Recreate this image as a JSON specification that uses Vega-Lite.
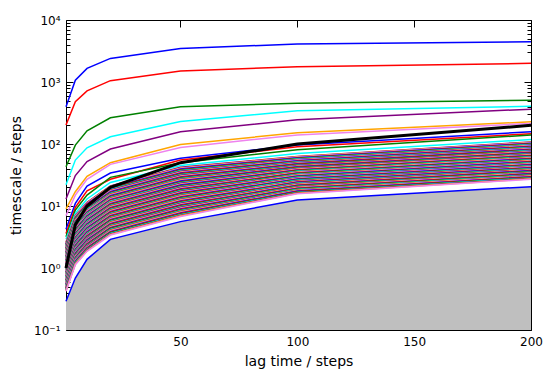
{
"$schema": "https://vega.github.io/schema/vega-lite/v6.json",
"width": 465, "height": 310,
"autosize": {"type": "none"},
"padding": {"left": 66, "top": 20, "right": 22, "bottom": 50},
"background": "white",
"config": {
  "view": {"stroke": null},
  "axis": {"domainColor": "black", "domainWidth": 1, "tickColor": "black", "tickWidth": 1, "grid": false, "labelFont": "DejaVu Sans", "titleFont": "DejaVu Sans", "labelFontSize": 12, "titleFontSize": 14, "titleFontWeight": "normal", "labelColor": "black", "titleColor": "black", "zindex": 1, "labelFlush": false}
},
"datasets": {
"lagline": [{"lag":1,"t":1},{"lag":5,"t":5},{"lag":10,"t":10},{"lag":20,"t":20},{"lag":50,"t":50},{"lag":100,"t":100},{"lag":200,"t":200}],
"ts": [
{"s":0,"lag":1,"t":400},{"s":0,"lag":5,"t":1070},{"s":0,"lag":10,"t":1660},{"s":0,"lag":20,"t":2400},{"s":0,"lag":50,"t":3480},{"s":0,"lag":100,"t":4100},{"s":0,"lag":200,"t":4450},
{"s":1,"lag":1,"t":203},{"s":1,"lag":5,"t":480},{"s":1,"lag":10,"t":720},{"s":1,"lag":20,"t":1050},{"s":1,"lag":50,"t":1500},{"s":1,"lag":100,"t":1770},{"s":1,"lag":200,"t":2000},
{"s":2,"lag":1,"t":43},{"s":2,"lag":5,"t":96},{"s":2,"lag":10,"t":163},{"s":2,"lag":20,"t":265},{"s":2,"lag":50,"t":400},{"s":2,"lag":100,"t":455},{"s":2,"lag":200,"t":510},
{"s":3,"lag":1,"t":22},{"s":3,"lag":5,"t":55},{"s":3,"lag":10,"t":87},{"s":3,"lag":20,"t":131},{"s":3,"lag":50,"t":230},{"s":3,"lag":100,"t":345},{"s":3,"lag":200,"t":405},
{"s":4,"lag":1,"t":13},{"s":4,"lag":5,"t":31},{"s":4,"lag":10,"t":52},{"s":4,"lag":20,"t":83},{"s":4,"lag":50,"t":158},{"s":4,"lag":100,"t":245},{"s":4,"lag":200,"t":365},
{"s":5,"lag":1,"t":9},{"s":5,"lag":5,"t":17},{"s":5,"lag":10,"t":30},{"s":5,"lag":20,"t":50},{"s":5,"lag":50,"t":98},{"s":5,"lag":100,"t":152},{"s":5,"lag":200,"t":228},
{"s":6,"lag":1,"t":7},{"s":6,"lag":5,"t":15},{"s":6,"lag":10,"t":27},{"s":6,"lag":20,"t":47},{"s":6,"lag":50,"t":88},{"s":6,"lag":100,"t":140},{"s":6,"lag":200,"t":215},
{"s":7,"lag":1,"t":4.2},{"s":7,"lag":5,"t":11},{"s":7,"lag":10,"t":21},{"s":7,"lag":20,"t":34},{"s":7,"lag":50,"t":59},{"s":7,"lag":100,"t":96},{"s":7,"lag":200,"t":158},
{"s":8,"lag":1,"t":3.6},{"s":8,"lag":5,"t":9.5},{"s":8,"lag":10,"t":17.5},{"s":8,"lag":20,"t":27},{"s":8,"lag":50,"t":55},{"s":8,"lag":100,"t":90},{"s":8,"lag":200,"t":146},
{"s":9,"lag":1,"t":3.2},{"s":9,"lag":5,"t":8.6},{"s":9,"lag":10,"t":15},{"s":9,"lag":20,"t":29},{"s":9,"lag":50,"t":50},{"s":9,"lag":100,"t":81},{"s":9,"lag":200,"t":140},
{"s":10,"lag":1,"t":2.9},{"s":10,"lag":5,"t":7.6},{"s":10,"lag":10,"t":13},{"s":10,"lag":20,"t":24},{"s":10,"lag":50,"t":45},{"s":10,"lag":100,"t":70},{"s":10,"lag":200,"t":118},
{"s":11,"lag":1,"t":2.6},{"s":11,"lag":5,"t":7},{"s":11,"lag":10,"t":11.5},{"s":11,"lag":20,"t":21},{"s":11,"lag":50,"t":42},{"s":11,"lag":100,"t":63},{"s":11,"lag":200,"t":108},
{"s":12,"lag":1,"t":2.55},{"s":12,"lag":5,"t":6.85},{"s":12,"lag":10,"t":11.3},{"s":12,"lag":20,"t":20.6},{"s":12,"lag":50,"t":41.1},{"s":12,"lag":100,"t":62},{"s":12,"lag":200,"t":106.3},
{"s":13,"lag":1,"t":2.49},{"s":13,"lag":5,"t":6.71},{"s":13,"lag":10,"t":11.0},{"s":13,"lag":20,"t":20.1},{"s":13,"lag":50,"t":40.3},{"s":13,"lag":100,"t":61},{"s":13,"lag":200,"t":104.6},
{"s":14,"lag":1,"t":2.44},{"s":14,"lag":5,"t":6.57},{"s":14,"lag":10,"t":10.8},{"s":14,"lag":20,"t":19.7},{"s":14,"lag":50,"t":39.4},{"s":14,"lag":100,"t":60},{"s":14,"lag":200,"t":102.9},
{"s":15,"lag":1,"t":2.39},{"s":15,"lag":5,"t":6.43},{"s":15,"lag":10,"t":10.6},{"s":15,"lag":20,"t":19.3},{"s":15,"lag":50,"t":38.6},{"s":15,"lag":100,"t":59.1},{"s":15,"lag":200,"t":101.3},
{"s":16,"lag":1,"t":2.34},{"s":16,"lag":5,"t":6.30},{"s":16,"lag":10,"t":10.3},{"s":16,"lag":20,"t":18.9},{"s":16,"lag":50,"t":37.8},{"s":16,"lag":100,"t":58.1},{"s":16,"lag":200,"t":99.6},
{"s":17,"lag":1,"t":2.29},{"s":17,"lag":5,"t":6.16},{"s":17,"lag":10,"t":10.1},{"s":17,"lag":20,"t":18.5},{"s":17,"lag":50,"t":37.0},{"s":17,"lag":100,"t":57.2},{"s":17,"lag":200,"t":98.0},
{"s":18,"lag":1,"t":2.24},{"s":18,"lag":5,"t":6.04},{"s":18,"lag":10,"t":9.92},{"s":18,"lag":20,"t":18.1},{"s":18,"lag":50,"t":36.2},{"s":18,"lag":100,"t":56.3},{"s":18,"lag":200,"t":96.5},
{"s":19,"lag":1,"t":2.19},{"s":19,"lag":5,"t":5.91},{"s":19,"lag":10,"t":9.71},{"s":19,"lag":20,"t":17.7},{"s":19,"lag":50,"t":35.5},{"s":19,"lag":100,"t":55.4},{"s":19,"lag":200,"t":94.9},
{"s":20,"lag":1,"t":2.15},{"s":20,"lag":5,"t":5.78},{"s":20,"lag":10,"t":9.50},{"s":20,"lag":20,"t":17.4},{"s":20,"lag":50,"t":34.7},{"s":20,"lag":100,"t":54.5},{"s":20,"lag":200,"t":93.4},
{"s":21,"lag":1,"t":2.10},{"s":21,"lag":5,"t":5.66},{"s":21,"lag":10,"t":9.30},{"s":21,"lag":20,"t":17.0},{"s":21,"lag":50,"t":34.0},{"s":21,"lag":100,"t":53.6},{"s":21,"lag":200,"t":91.9},
{"s":22,"lag":1,"t":2.06},{"s":22,"lag":5,"t":5.54},{"s":22,"lag":10,"t":9.11},{"s":22,"lag":20,"t":16.6},{"s":22,"lag":50,"t":33.3},{"s":22,"lag":100,"t":52.8},{"s":22,"lag":200,"t":90.5},
{"s":23,"lag":1,"t":2.02},{"s":23,"lag":5,"t":5.43},{"s":23,"lag":10,"t":8.92},{"s":23,"lag":20,"t":16.3},{"s":23,"lag":50,"t":32.6},{"s":23,"lag":100,"t":51.9},{"s":23,"lag":200,"t":89.0},
{"s":24,"lag":1,"t":1.97},{"s":24,"lag":5,"t":5.32},{"s":24,"lag":10,"t":8.73},{"s":24,"lag":20,"t":16.0},{"s":24,"lag":50,"t":31.9},{"s":24,"lag":100,"t":51.1},{"s":24,"lag":200,"t":87.6},
{"s":25,"lag":1,"t":1.93},{"s":25,"lag":5,"t":5.20},{"s":25,"lag":10,"t":8.55},{"s":25,"lag":20,"t":15.6},{"s":25,"lag":50,"t":31.2},{"s":25,"lag":100,"t":50.3},{"s":25,"lag":200,"t":86.2},
{"s":26,"lag":1,"t":1.89},{"s":26,"lag":5,"t":5.09},{"s":26,"lag":10,"t":8.37},{"s":26,"lag":20,"t":15.3},{"s":26,"lag":50,"t":30.6},{"s":26,"lag":100,"t":49.5},{"s":26,"lag":200,"t":84.8},
{"s":27,"lag":1,"t":1.85},{"s":27,"lag":5,"t":4.99},{"s":27,"lag":10,"t":8.19},{"s":27,"lag":20,"t":15.0},{"s":27,"lag":50,"t":29.9},{"s":27,"lag":100,"t":48.7},{"s":27,"lag":200,"t":83.5},
{"s":28,"lag":1,"t":1.81},{"s":28,"lag":5,"t":4.88},{"s":28,"lag":10,"t":8.02},{"s":28,"lag":20,"t":14.7},{"s":28,"lag":50,"t":29.3},{"s":28,"lag":100,"t":47.9},{"s":28,"lag":200,"t":82.1},
{"s":29,"lag":1,"t":1.78},{"s":29,"lag":5,"t":4.78},{"s":29,"lag":10,"t":7.85},{"s":29,"lag":20,"t":14.3},{"s":29,"lag":50,"t":28.7},{"s":29,"lag":100,"t":47.1},{"s":29,"lag":200,"t":80.8},
{"s":30,"lag":1,"t":1.74},{"s":30,"lag":5,"t":4.68},{"s":30,"lag":10,"t":7.69},{"s":30,"lag":20,"t":14.0},{"s":30,"lag":50,"t":28.1},{"s":30,"lag":100,"t":46.4},{"s":30,"lag":200,"t":79.5},
{"s":31,"lag":1,"t":1.70},{"s":31,"lag":5,"t":4.58},{"s":31,"lag":10,"t":7.53},{"s":31,"lag":20,"t":13.8},{"s":31,"lag":50,"t":27.5},{"s":31,"lag":100,"t":45.6},{"s":31,"lag":200,"t":78.2},
{"s":32,"lag":1,"t":1.67},{"s":32,"lag":5,"t":4.49},{"s":32,"lag":10,"t":7.37},{"s":32,"lag":20,"t":13.5},{"s":32,"lag":50,"t":26.9},{"s":32,"lag":100,"t":44.9},{"s":32,"lag":200,"t":77.0},
{"s":33,"lag":1,"t":1.63},{"s":33,"lag":5,"t":4.39},{"s":33,"lag":10,"t":7.22},{"s":33,"lag":20,"t":13.2},{"s":33,"lag":50,"t":26.4},{"s":33,"lag":100,"t":44.2},{"s":33,"lag":200,"t":75.8},
{"s":34,"lag":1,"t":1.60},{"s":34,"lag":5,"t":4.30},{"s":34,"lag":10,"t":7.06},{"s":34,"lag":20,"t":12.9},{"s":34,"lag":50,"t":25.8},{"s":34,"lag":100,"t":43.5},{"s":34,"lag":200,"t":74.5},
{"s":35,"lag":1,"t":1.56},{"s":35,"lag":5,"t":4.21},{"s":35,"lag":10,"t":6.92},{"s":35,"lag":20,"t":12.6},{"s":35,"lag":50,"t":25.3},{"s":35,"lag":100,"t":42.8},{"s":35,"lag":200,"t":73.4},
{"s":36,"lag":1,"t":1.53},{"s":36,"lag":5,"t":4.12},{"s":36,"lag":10,"t":6.77},{"s":36,"lag":20,"t":12.4},{"s":36,"lag":50,"t":24.7},{"s":36,"lag":100,"t":42.1},{"s":36,"lag":200,"t":72.2},
{"s":37,"lag":1,"t":1.50},{"s":37,"lag":5,"t":4.04},{"s":37,"lag":10,"t":6.63},{"s":37,"lag":20,"t":12.1},{"s":37,"lag":50,"t":24.2},{"s":37,"lag":100,"t":41.4},{"s":37,"lag":200,"t":71.0},
{"s":38,"lag":1,"t":1.47},{"s":38,"lag":5,"t":3.95},{"s":38,"lag":10,"t":6.49},{"s":38,"lag":20,"t":11.9},{"s":38,"lag":50,"t":23.7},{"s":38,"lag":100,"t":40.8},{"s":38,"lag":200,"t":69.9},
{"s":39,"lag":1,"t":1.44},{"s":39,"lag":5,"t":3.87},{"s":39,"lag":10,"t":6.35},{"s":39,"lag":20,"t":11.6},{"s":39,"lag":50,"t":23.2},{"s":39,"lag":100,"t":40.1},{"s":39,"lag":200,"t":68.8},
{"s":40,"lag":1,"t":1.41},{"s":40,"lag":5,"t":3.79},{"s":40,"lag":10,"t":6.22},{"s":40,"lag":20,"t":11.4},{"s":40,"lag":50,"t":22.7},{"s":40,"lag":100,"t":39.5},{"s":40,"lag":200,"t":67.7},
{"s":41,"lag":1,"t":1.38},{"s":41,"lag":5,"t":3.71},{"s":41,"lag":10,"t":6.09},{"s":41,"lag":20,"t":11.1},{"s":41,"lag":50,"t":22.3},{"s":41,"lag":100,"t":38.8},{"s":41,"lag":200,"t":66.6},
{"s":42,"lag":1,"t":1.35},{"s":42,"lag":5,"t":3.63},{"s":42,"lag":10,"t":5.96},{"s":42,"lag":20,"t":10.9},{"s":42,"lag":50,"t":21.8},{"s":42,"lag":100,"t":38.2},{"s":42,"lag":200,"t":65.5},
{"s":43,"lag":1,"t":1.32},{"s":43,"lag":5,"t":3.55},{"s":43,"lag":10,"t":5.84},{"s":43,"lag":20,"t":10.7},{"s":43,"lag":50,"t":21.3},{"s":43,"lag":100,"t":37.6},{"s":43,"lag":200,"t":64.5},
{"s":44,"lag":1,"t":1.29},{"s":44,"lag":5,"t":3.48},{"s":44,"lag":10,"t":5.72},{"s":44,"lag":20,"t":10.4},{"s":44,"lag":50,"t":20.9},{"s":44,"lag":100,"t":37.0},{"s":44,"lag":200,"t":63.5},
{"s":45,"lag":1,"t":1.27},{"s":45,"lag":5,"t":3.41},{"s":45,"lag":10,"t":5.60},{"s":45,"lag":20,"t":10.2},{"s":45,"lag":50,"t":20.4},{"s":45,"lag":100,"t":36.4},{"s":45,"lag":200,"t":62.4},
{"s":46,"lag":1,"t":1.24},{"s":46,"lag":5,"t":3.33},{"s":46,"lag":10,"t":5.48},{"s":46,"lag":20,"t":10.0},{"s":46,"lag":50,"t":20.0},{"s":46,"lag":100,"t":35.8},{"s":46,"lag":200,"t":61.4},
{"s":47,"lag":1,"t":1.21},{"s":47,"lag":5,"t":3.27},{"s":47,"lag":10,"t":5.36},{"s":47,"lag":20,"t":9.80},{"s":47,"lag":50,"t":19.6},{"s":47,"lag":100,"t":35.3},{"s":47,"lag":200,"t":60.5},
{"s":48,"lag":1,"t":1.19},{"s":48,"lag":5,"t":3.20},{"s":48,"lag":10,"t":5.25},{"s":48,"lag":20,"t":9.59},{"s":48,"lag":50,"t":19.2},{"s":48,"lag":100,"t":34.7},{"s":48,"lag":200,"t":59.5},
{"s":49,"lag":1,"t":1.16},{"s":49,"lag":5,"t":3.13},{"s":49,"lag":10,"t":5.14},{"s":49,"lag":20,"t":9.39},{"s":49,"lag":50,"t":18.8},{"s":49,"lag":100,"t":34.1},{"s":49,"lag":200,"t":58.5},
{"s":50,"lag":1,"t":1.14},{"s":50,"lag":5,"t":3.06},{"s":50,"lag":10,"t":5.03},{"s":50,"lag":20,"t":9.19},{"s":50,"lag":50,"t":18.4},{"s":50,"lag":100,"t":33.6},{"s":50,"lag":200,"t":57.6},
{"s":51,"lag":1,"t":1.11},{"s":51,"lag":5,"t":3.00},{"s":51,"lag":10,"t":4.93},{"s":51,"lag":20,"t":9.00},{"s":51,"lag":50,"t":18.0},{"s":51,"lag":100,"t":33.1},{"s":51,"lag":200,"t":56.7},
{"s":52,"lag":1,"t":1.09},{"s":52,"lag":5,"t":2.94},{"s":52,"lag":10,"t":4.83},{"s":52,"lag":20,"t":8.81},{"s":52,"lag":50,"t":17.6},{"s":52,"lag":100,"t":32.5},{"s":52,"lag":200,"t":55.8},
{"s":53,"lag":1,"t":1.07},{"s":53,"lag":5,"t":2.88},{"s":53,"lag":10,"t":4.72},{"s":53,"lag":20,"t":8.63},{"s":53,"lag":50,"t":17.3},{"s":53,"lag":100,"t":32.0},{"s":53,"lag":200,"t":54.9},
{"s":54,"lag":1,"t":1.05},{"s":54,"lag":5,"t":2.82},{"s":54,"lag":10,"t":4.63},{"s":54,"lag":20,"t":8.45},{"s":54,"lag":50,"t":16.9},{"s":54,"lag":100,"t":31.5},{"s":54,"lag":200,"t":54.0},
{"s":55,"lag":1,"t":1.02},{"s":55,"lag":5,"t":2.76},{"s":55,"lag":10,"t":4.53},{"s":55,"lag":20,"t":8.27},{"s":55,"lag":50,"t":16.5},{"s":55,"lag":100,"t":31.0},{"s":55,"lag":200,"t":53.1},
{"s":56,"lag":1,"t":1.00},{"s":56,"lag":5,"t":2.70},{"s":56,"lag":10,"t":4.43},{"s":56,"lag":20,"t":8.10},{"s":56,"lag":50,"t":16.2},{"s":56,"lag":100,"t":30.5},{"s":56,"lag":200,"t":52.3},
{"s":57,"lag":1,"t":0.98},{"s":57,"lag":5,"t":2.64},{"s":57,"lag":10,"t":4.34},{"s":57,"lag":20,"t":7.93},{"s":57,"lag":50,"t":15.9},{"s":57,"lag":100,"t":30.0},{"s":57,"lag":200,"t":51.5},
{"s":58,"lag":1,"t":0.96},{"s":58,"lag":5,"t":2.59},{"s":58,"lag":10,"t":4.25},{"s":58,"lag":20,"t":7.76},{"s":58,"lag":50,"t":15.5},{"s":58,"lag":100,"t":29.5},{"s":58,"lag":200,"t":50.6},
{"s":59,"lag":1,"t":0.94},{"s":59,"lag":5,"t":2.53},{"s":59,"lag":10,"t":4.16},{"s":59,"lag":20,"t":7.60},{"s":59,"lag":50,"t":15.2},{"s":59,"lag":100,"t":29.1},{"s":59,"lag":200,"t":49.8},
{"s":60,"lag":1,"t":0.92},{"s":60,"lag":5,"t":2.48},{"s":60,"lag":10,"t":4.07},{"s":60,"lag":20,"t":7.44},{"s":60,"lag":50,"t":14.9},{"s":60,"lag":100,"t":28.6},{"s":60,"lag":200,"t":49.0},
{"s":61,"lag":1,"t":0.90},{"s":61,"lag":5,"t":2.43},{"s":61,"lag":10,"t":3.99},{"s":61,"lag":20,"t":7.28},{"s":61,"lag":50,"t":14.6},{"s":61,"lag":100,"t":28.1},{"s":61,"lag":200,"t":48.2},
{"s":62,"lag":1,"t":0.88},{"s":62,"lag":5,"t":2.38},{"s":62,"lag":10,"t":3.90},{"s":62,"lag":20,"t":7.13},{"s":62,"lag":50,"t":14.3},{"s":62,"lag":100,"t":27.7},{"s":62,"lag":200,"t":47.5},
{"s":63,"lag":1,"t":0.86},{"s":63,"lag":5,"t":2.33},{"s":63,"lag":10,"t":3.82},{"s":63,"lag":20,"t":6.98},{"s":63,"lag":50,"t":14.0},{"s":63,"lag":100,"t":27.2},{"s":63,"lag":200,"t":46.7},
{"s":64,"lag":1,"t":0.85},{"s":64,"lag":5,"t":2.28},{"s":64,"lag":10,"t":3.74},{"s":64,"lag":20,"t":6.83},{"s":64,"lag":50,"t":13.7},{"s":64,"lag":100,"t":26.8},{"s":64,"lag":200,"t":46.0},
{"s":65,"lag":1,"t":0.83},{"s":65,"lag":5,"t":2.23},{"s":65,"lag":10,"t":3.66},{"s":65,"lag":20,"t":6.69},{"s":65,"lag":50,"t":13.4},{"s":65,"lag":100,"t":26.4},{"s":65,"lag":200,"t":45.2},
{"s":66,"lag":1,"t":0.81},{"s":66,"lag":5,"t":2.18},{"s":66,"lag":10,"t":3.59},{"s":66,"lag":20,"t":6.55},{"s":66,"lag":50,"t":13.1},{"s":66,"lag":100,"t":26.0},{"s":66,"lag":200,"t":44.5},
{"s":67,"lag":1,"t":0.79},{"s":67,"lag":5,"t":2.14},{"s":67,"lag":10,"t":3.51},{"s":67,"lag":20,"t":6.41},{"s":67,"lag":50,"t":12.8},{"s":67,"lag":100,"t":25.5},{"s":67,"lag":200,"t":43.8},
{"s":68,"lag":1,"t":0.78},{"s":68,"lag":5,"t":2.09},{"s":68,"lag":10,"t":3.44},{"s":68,"lag":20,"t":6.28},{"s":68,"lag":50,"t":12.6},{"s":68,"lag":100,"t":25.1},{"s":68,"lag":200,"t":43.1},
{"s":69,"lag":1,"t":0.76},{"s":69,"lag":5,"t":2.05},{"s":69,"lag":10,"t":3.37},{"s":69,"lag":20,"t":6.15},{"s":69,"lag":50,"t":12.3},{"s":69,"lag":100,"t":24.7},{"s":69,"lag":200,"t":42.4},
{"s":70,"lag":1,"t":0.74},{"s":70,"lag":5,"t":2.01},{"s":70,"lag":10,"t":3.29},{"s":70,"lag":20,"t":6.02},{"s":70,"lag":50,"t":12.0},{"s":70,"lag":100,"t":24.3},{"s":70,"lag":200,"t":41.7},
{"s":71,"lag":1,"t":0.73},{"s":71,"lag":5,"t":1.96},{"s":71,"lag":10,"t":3.23},{"s":71,"lag":20,"t":5.89},{"s":71,"lag":50,"t":11.8},{"s":71,"lag":100,"t":24.0},{"s":71,"lag":200,"t":41.1},
{"s":72,"lag":1,"t":0.71},{"s":72,"lag":5,"t":1.92},{"s":72,"lag":10,"t":3.16},{"s":72,"lag":20,"t":5.77},{"s":72,"lag":50,"t":11.5},{"s":72,"lag":100,"t":23.6},{"s":72,"lag":200,"t":40.4},
{"s":73,"lag":1,"t":0.70},{"s":73,"lag":5,"t":1.88},{"s":73,"lag":10,"t":3.09},{"s":73,"lag":20,"t":5.65},{"s":73,"lag":50,"t":11.3},{"s":73,"lag":100,"t":23.2},{"s":73,"lag":200,"t":39.8},
{"s":74,"lag":1,"t":0.68},{"s":74,"lag":5,"t":1.84},{"s":74,"lag":10,"t":3.03},{"s":74,"lag":20,"t":5.53},{"s":74,"lag":50,"t":11.1},{"s":74,"lag":100,"t":22.8},{"s":74,"lag":200,"t":39.1},
{"s":75,"lag":1,"t":0.67},{"s":75,"lag":5,"t":1.80},{"s":75,"lag":10,"t":2.96},{"s":75,"lag":20,"t":5.41},{"s":75,"lag":50,"t":10.8},{"s":75,"lag":100,"t":22.5},{"s":75,"lag":200,"t":38.5},
{"s":76,"lag":1,"t":0.66},{"s":76,"lag":5,"t":1.77},{"s":76,"lag":10,"t":2.90},{"s":76,"lag":20,"t":5.30},{"s":76,"lag":50,"t":10.6},{"s":76,"lag":100,"t":22.1},{"s":76,"lag":200,"t":37.9},
{"s":77,"lag":1,"t":0.64},{"s":77,"lag":5,"t":1.73},{"s":77,"lag":10,"t":2.84},{"s":77,"lag":20,"t":5.19},{"s":77,"lag":50,"t":10.4},{"s":77,"lag":100,"t":21.7},{"s":77,"lag":200,"t":37.3},
{"s":78,"lag":1,"t":0.63},{"s":78,"lag":5,"t":1.69},{"s":78,"lag":10,"t":2.78},{"s":78,"lag":20,"t":5.08},{"s":78,"lag":50,"t":10.2},{"s":78,"lag":100,"t":21.4},{"s":78,"lag":200,"t":36.7},
{"s":79,"lag":1,"t":0.62},{"s":79,"lag":5,"t":1.66},{"s":79,"lag":10,"t":2.72},{"s":79,"lag":20,"t":4.97},{"s":79,"lag":50,"t":9.95},{"s":79,"lag":100,"t":21.1},{"s":79,"lag":200,"t":36.1},
{"s":80,"lag":1,"t":0.60},{"s":80,"lag":5,"t":1.62},{"s":80,"lag":10,"t":2.67},{"s":80,"lag":20,"t":4.87},{"s":80,"lag":50,"t":9.74},{"s":80,"lag":100,"t":20.7},{"s":80,"lag":200,"t":35.5},
{"s":81,"lag":1,"t":0.59},{"s":81,"lag":5,"t":1.59},{"s":81,"lag":10,"t":2.61},{"s":81,"lag":20,"t":4.77},{"s":81,"lag":50,"t":9.53},{"s":81,"lag":100,"t":20.4},{"s":81,"lag":200,"t":34.9},
{"s":82,"lag":1,"t":0.58},{"s":82,"lag":5,"t":1.56},{"s":82,"lag":10,"t":2.56},{"s":82,"lag":20,"t":4.67},{"s":82,"lag":50,"t":9.33},{"s":82,"lag":100,"t":20.1},{"s":82,"lag":200,"t":34.4},
{"s":83,"lag":1,"t":0.57},{"s":83,"lag":5,"t":1.52},{"s":83,"lag":10,"t":2.50},{"s":83,"lag":20,"t":4.57},{"s":83,"lag":50,"t":9.14},{"s":83,"lag":100,"t":19.7},{"s":83,"lag":200,"t":33.8},
{"s":84,"lag":1,"t":0.55},{"s":84,"lag":5,"t":1.49},{"s":84,"lag":10,"t":2.45},{"s":84,"lag":20,"t":4.47},{"s":84,"lag":50,"t":8.95},{"s":84,"lag":100,"t":19.4},{"s":84,"lag":200,"t":33.3},
{"s":85,"lag":1,"t":0.54},{"s":85,"lag":5,"t":1.46},{"s":85,"lag":10,"t":2.40},{"s":85,"lag":20,"t":4.38},{"s":85,"lag":50,"t":8.76},{"s":85,"lag":100,"t":19.1},{"s":85,"lag":200,"t":32.8},
{"s":86,"lag":1,"t":0.53},{"s":86,"lag":5,"t":1.43},{"s":86,"lag":10,"t":2.35},{"s":86,"lag":20,"t":4.29},{"s":86,"lag":50,"t":8.58},{"s":86,"lag":100,"t":18.8},{"s":86,"lag":200,"t":32.2},
{"s":87,"lag":1,"t":0.52},{"s":87,"lag":5,"t":1.40},{"s":87,"lag":10,"t":2.30},{"s":87,"lag":20,"t":4.20},{"s":87,"lag":50,"t":8.40},{"s":87,"lag":100,"t":18.5},{"s":87,"lag":200,"t":31.7},
{"s":88,"lag":1,"t":0.51},{"s":88,"lag":5,"t":1.37},{"s":88,"lag":10,"t":2.25},{"s":88,"lag":20,"t":4.11},{"s":88,"lag":50,"t":8.22},{"s":88,"lag":100,"t":18.2},{"s":88,"lag":200,"t":31.2},
{"s":89,"lag":1,"t":0.50},{"s":89,"lag":5,"t":1.34},{"s":89,"lag":10,"t":2.20},{"s":89,"lag":20,"t":4.02},{"s":89,"lag":50,"t":8.05},{"s":89,"lag":100,"t":17.9},{"s":89,"lag":200,"t":30.7},
{"s":90,"lag":1,"t":0.49},{"s":90,"lag":5,"t":1.31},{"s":90,"lag":10,"t":2.16},{"s":90,"lag":20,"t":3.94},{"s":90,"lag":50,"t":7.88},{"s":90,"lag":100,"t":17.6},{"s":90,"lag":200,"t":30.2},
{"s":91,"lag":1,"t":0.48},{"s":91,"lag":5,"t":1.29},{"s":91,"lag":10,"t":2.11},{"s":91,"lag":20,"t":3.86},{"s":91,"lag":50,"t":7.72},{"s":91,"lag":100,"t":17.4},{"s":91,"lag":200,"t":29.7},
{"s":92,"lag":1,"t":0.47},{"s":92,"lag":5,"t":1.26},{"s":92,"lag":10,"t":2.07},{"s":92,"lag":20,"t":3.78},{"s":92,"lag":50,"t":7.55},{"s":92,"lag":100,"t":17.1},{"s":92,"lag":200,"t":29.3},
{"s":93,"lag":1,"t":0.46},{"s":93,"lag":5,"t":1.23},{"s":93,"lag":10,"t":2.02},{"s":93,"lag":20,"t":3.70},{"s":93,"lag":50,"t":7.39},{"s":93,"lag":100,"t":16.8},{"s":93,"lag":200,"t":28.8},
{"s":94,"lag":1,"t":0.45},{"s":94,"lag":5,"t":1.21},{"s":94,"lag":10,"t":1.98},{"s":94,"lag":20,"t":3.62},{"s":94,"lag":50,"t":7.24},{"s":94,"lag":100,"t":16.5},{"s":94,"lag":200,"t":28.3},
{"s":95,"lag":1,"t":0.44},{"s":95,"lag":5,"t":1.18},{"s":95,"lag":10,"t":1.94},{"s":95,"lag":20,"t":3.54},{"s":95,"lag":50,"t":7.09},{"s":95,"lag":100,"t":16.3},{"s":95,"lag":200,"t":27.9},
{"s":96,"lag":1,"t":0.43},{"s":96,"lag":5,"t":1.16},{"s":96,"lag":10,"t":1.90},{"s":96,"lag":20,"t":3.47},{"s":96,"lag":50,"t":6.94},{"s":96,"lag":100,"t":16.0},{"s":96,"lag":200,"t":27.4},
{"s":97,"lag":1,"t":0.42},{"s":97,"lag":5,"t":1.13},{"s":97,"lag":10,"t":1.86},{"s":97,"lag":20,"t":3.40},{"s":97,"lag":50,"t":6.79},{"s":97,"lag":100,"t":15.8},{"s":97,"lag":200,"t":27.0},
{"s":98,"lag":1,"t":0.29},{"s":98,"lag":5,"t":0.69},{"s":98,"lag":10,"t":1.38},{"s":98,"lag":20,"t":2.9},{"s":98,"lag":50,"t":5.6},{"s":98,"lag":100,"t":12.5},{"s":98,"lag":200,"t":20.5}
]},
"layer": [
{
  "data": {"name": "ts"},
  "transform": [{"filter": "datum.s == 98"}],
  "mark": {"type": "area", "color": "#bfbfbf", "opacity": 1},
  "encoding": {
    "x": {"field": "lag", "type": "quantitative", "scale": {"domain": [1, 200], "nice": false, "zero": false},
          "axis": {"orient": "bottom", "values": [50, 100, 150, 200], "tickSize": -7, "labelPadding": 13, "title": "lag time / steps", "titlePadding": 7}},
    "y": {"field": "t", "type": "quantitative", "scale": {"type": "log", "domain": [0.1, 10000], "nice": false},
          "axis": {"orient": "left", "values": [0.1, 1, 10, 100, 1000, 10000], "tickSize": -7, "labelPadding": 13, "title": "timescale / steps", "titlePadding": 10,
                   "labelExpr": "datum.value >= 9999 ? '10⁴' : datum.value >= 999 ? '10³' : datum.value >= 99 ? '10²' : datum.value >= 9 ? '10¹' : datum.value >= 0.9 ? '10⁰' : '10⁻¹'"}},
    "y2": {"datum": 0.1}
  }
},
{
  "data": {"name": "ts"},
  "transform": [{"filter": "datum.s < 50"}],
  "mark": {"type": "line", "strokeWidth": 1.5},
  "encoding": {
    "x": {"field": "lag", "type": "quantitative", "axis": {"orient": "top", "values": [50, 100, 150, 200], "tickSize": -7, "labels": false, "title": null}},
    "y": {"field": "t", "type": "quantitative", "axis": {"orient": "right", "values": [0.1, 1, 10, 100, 1000, 10000], "tickSize": -7, "labels": false, "title": null}},
    "color": {"field": "s", "type": "nominal", "scale": {"range": ["#0000ff", "#ff0000", "#008000", "#00ffff", "#800080", "#ffa500", "#ee82ee"]}, "legend": null}
  }
},
{
  "data": {"name": "ts"},
  "transform": [{"filter": "datum.s >= 50"}],
  "mark": {"type": "line", "strokeWidth": 1.5},
  "encoding": {
    "x": {"field": "lag", "type": "quantitative", "axis": null},
    "y": {"field": "t", "type": "quantitative", "axis": {"orient": "right", "values": [0.2,0.3,0.4,0.5,0.6,0.7,0.8,0.9,2,3,4,5,6,7,8,9,20,30,40,50,60,70,80,90,200,300,400,500,600,700,800,900,2000,3000,4000,5000,6000,7000,8000,9000], "tickSize": -4, "labels": false, "domain": false, "title": null}},
    "color": {"field": "s", "type": "nominal", "legend": null}
  }
},
{
  "data": {"name": "lagline"},
  "mark": {"type": "line", "color": "black", "strokeWidth": 3},
  "encoding": {
    "x": {"field": "lag", "type": "quantitative", "axis": null},
    "y": {"field": "t", "type": "quantitative", "axis": {"orient": "left", "values": [0.2,0.3,0.4,0.5,0.6,0.7,0.8,0.9,2,3,4,5,6,7,8,9,20,30,40,50,60,70,80,90,200,300,400,500,600,700,800,900,2000,3000,4000,5000,6000,7000,8000,9000], "tickSize": -4, "labels": false, "domain": false, "title": null}}
  }
}
],
"resolve": {"axis": {"x": "independent", "y": "independent"}}
}
